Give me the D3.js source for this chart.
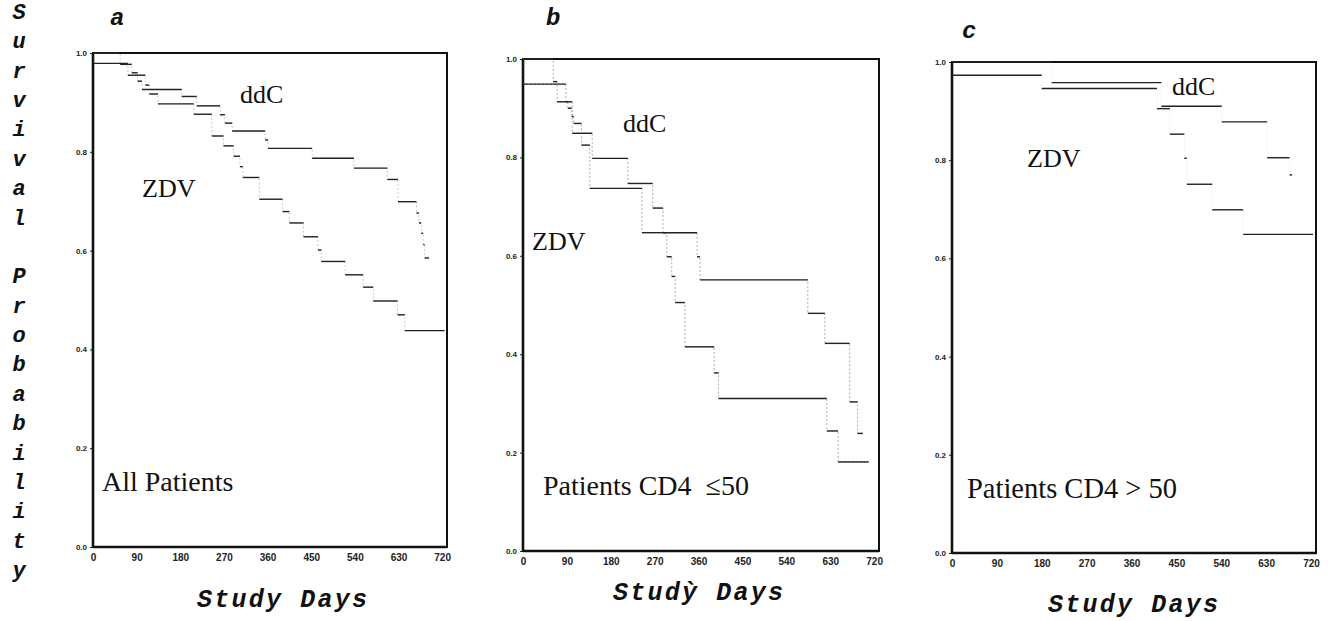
<!DOCTYPE html>
<html>
<head>
<meta charset="utf-8">
<script src="https://cdn.jsdelivr.net/npm/d3@7"></script>
<style>
  body { margin: 0; background: #fff; }
  svg { display: block; }
  .tick text { font-family: "Liberation Sans", Arial, sans-serif; font-weight: bold; font-size: 8px; fill: #222; }
  .tick line { stroke: #222; }
  .label { font-family: "Liberation Serif", "Times New Roman", serif; fill: #111; white-space: pre; }
  .mono { font-family: "Liberation Mono", "Courier New", monospace; font-weight: bold; font-style: italic; fill: #111; }
</style>
</head>
<body>
<script>
// Tick values shared by the three panels.
const xTicks = [0, 90, 180, 270, 360, 450, 540, 630, 720];
const yTicks = [0, 0.2, 0.4, 0.6, 0.8, 1.0];

// Panel a, All Patients. Days are step start times, the last one is where the curve ends.
const aDdcDays = [0, 56, 80, 92, 101, 183, 214, 262, 272, 287, 355, 361, 452, 538, 607, 629, 667, 672, 677, 681, 684, 693];
const aDdcSurv = [1.0, 0.977, 0.960, 0.943, 0.926, 0.912, 0.893, 0.875, 0.858, 0.842, 0.824, 0.807, 0.787, 0.767, 0.744, 0.699, 0.676, 0.656, 0.635, 0.612, 0.585];
const aZdvDays = [0, 2, 72, 108, 116, 134, 208, 245, 269, 290, 303, 309, 343, 391, 405, 434, 464, 471, 520, 557, 578, 628, 643, 725];
const aZdvSurv = [1.0, 0.979, 0.955, 0.935, 0.917, 0.897, 0.876, 0.832, 0.812, 0.791, 0.770, 0.748, 0.704, 0.679, 0.656, 0.628, 0.601, 0.578, 0.551, 0.526, 0.498, 0.470, 0.438];

// Panel b, CD4 <= 50.
const bDdcDays = [0, 62, 70, 101, 142, 215, 266, 287, 357, 363, 584, 619, 670, 686, 697];
const bDdcSurv = [1.0, 0.954, 0.913, 0.849, 0.798, 0.747, 0.697, 0.647, 0.598, 0.551, 0.483, 0.422, 0.303, 0.239];
const bZdvDays = [0, 2, 88, 92, 100, 104, 120, 137, 244, 295, 305, 312, 332, 392, 401, 623, 646, 709];
const bZdvSurv = [1.0, 0.949, 0.913, 0.900, 0.883, 0.869, 0.825, 0.737, 0.647, 0.598, 0.558, 0.505, 0.415, 0.362, 0.310, 0.244, 0.181];

// Panel c, CD4 > 50.
const cDdcDays = [0, 200, 420, 541, 632, 677, 682];
const cDdcSurv = [1.0, 0.958, 0.910, 0.878, 0.805, 0.770];
const cZdvDays = [0, 2, 180, 411, 437, 466, 471, 522, 584, 724];
const cZdvSurv = [1.0, 0.973, 0.946, 0.905, 0.853, 0.804, 0.751, 0.699, 0.649];

const W = 1331, H = 621;
const svg = d3.select('body').append('svg').attr('width', W).attr('height', H);

const panels = [
  { box: [93, 447, 53, 547], letter: 'a', letterPos: [110, 25], xTitle: 'Study Days', xTitlePos: [197, 607],
    curves: [[aDdcDays, aDdcSurv], [aZdvDays, aZdvSurv]], vert: 0.4,
    labels: [['ddC', 240, 103, 26], ['ZDV', 142, 197, 26], ['All Patients', 102, 491, 28]] },
  { box: [523, 879, 59, 551], letter: 'b', letterPos: [546, 25], xTitle: 'Studỳ Days', xTitlePos: [613, 600],
    curves: [[bDdcDays, bDdcSurv], [bZdvDays, bZdvSurv]], vert: 0.6,
    labels: [['ddC', 623, 132, 26], ['ZDV', 532, 250, 26], ['Patients CD4\u00a0\u00a0\u226450', 543, 495, 28]] },
  { box: [952, 1316, 62, 553], letter: 'c', letterPos: [962, 38], xTitle: 'Study Days', xTitlePos: [1048, 612],
    curves: [[cDdcDays, cDdcSurv], [cZdvDays, cZdvSurv]], vert: 0.12,
    labels: [['ddC', 1172, 95, 26], ['ZDV', 1027, 167, 26], ['Patients CD4 > 50', 967, 498, 28.5]] }
];

panels.forEach(function(p) {
  const [left, right, top, bottom] = p.box;
  const x = d3.scaleLinear().domain([0, 730]).range([left, right]);
  const y = d3.scaleLinear().domain([0, 1]).range([bottom, top]);
  const g = svg.append('g');

  // Axes (ticks only, the frame is drawn below).
  const yAxis = g.append('g').attr('transform', 'translate(' + left + ',0)')
    .call(d3.axisLeft(y).tickValues(yTicks).tickSize(3).tickPadding(3).tickFormat(d3.format('.1f')));
  yAxis.select('.domain').remove();
  const xAxis = g.append('g').attr('transform', 'translate(0,' + bottom + ')')
    .call(d3.axisBottom(x).tickValues(xTicks).tickSize(0).tickPadding(7));
  xAxis.select('.domain').remove();
  xAxis.selectAll('.tick text').style('font-size', '10px');

  // Frame.
  g.append('rect')
    .attr('x', left).attr('y', top)
    .attr('width', right - left).attr('height', bottom - top)
    .attr('fill', 'none').attr('stroke', '#111').attr('stroke-width', 2);
  g.append('line').attr('x1', left).attr('x2', left).attr('y1', top).attr('y2', bottom)
    .attr('stroke', '#111').attr('stroke-width', 2.6);
  g.append('line').attr('x1', left).attr('x2', right).attr('y1', bottom).attr('y2', bottom)
    .attr('stroke', '#111').attr('stroke-width', 2.6);

  // Survival curves: faint verticals, solid horizontal steps.
  p.curves.forEach(function(c) {
    const days = c[0], surv = c[1];
    const pts = surv.map(function(s, i) { return [days[i], s]; });
    pts.push([days[days.length - 1], surv[surv.length - 1]]);

    const step = d3.line()
      .x(function(d) { return x(d[0]); })
      .y(function(d) { return y(d[1]); })
      .curve(d3.curveStepAfter);

    g.append('path')
      .datum(pts)
      .attr('d', step)
      .attr('fill', 'none')
      .attr('stroke', '#777')
      .attr('stroke-opacity', p.vert)
      .attr('stroke-dasharray', '2,2')
      .attr('stroke-width', 1);

    g.selectAll(null)
      .data(surv.map(function(s, i) { return { x0: days[i], x1: days[i + 1], s: s }; }))
      .enter().append('line')
      .attr('x1', function(d) { return x(d.x0); })
      .attr('x2', function(d) { return x(d.x1); })
      .attr('y1', function(d) { return y(d.s); })
      .attr('y2', function(d) { return y(d.s); })
      .attr('stroke', '#222')
      .attr('stroke-width', 1.4);
  });

  p.labels.forEach(function(l) {
    g.append('text').attr('class', 'label')
      .attr('x', l[1]).attr('y', l[2])
      .attr('font-size', l[3])
      .text(l[0]);
  });

  g.append('text').attr('class', 'mono')
    .attr('x', p.letterPos[0]).attr('y', p.letterPos[1])
    .attr('font-size', 24)
    .text(p.letter);

  g.append('text').attr('class', 'mono')
    .attr('x', p.xTitlePos[0]).attr('y', p.xTitlePos[1])
    .attr('font-size', 25)
    .attr('textLength', 170)
    .text(p.xTitle);
});

// Vertical y title, one letter per row.
const yTitle = 'Survival Probability'.split('');
const rowY = d3.scaleLinear().domain([0, yTitle.length - 1]).range([12, 570]);
svg.append('g').selectAll('text')
  .data(yTitle)
  .enter().append('text')
  .attr('class', 'mono')
  .attr('x', 19)
  .attr('y', function(d, i) { return rowY(i) + 7; })
  .attr('text-anchor', 'middle')
  .attr('font-size', 22)
  .text(function(d) { return d; });
</script>
</body>
</html>
